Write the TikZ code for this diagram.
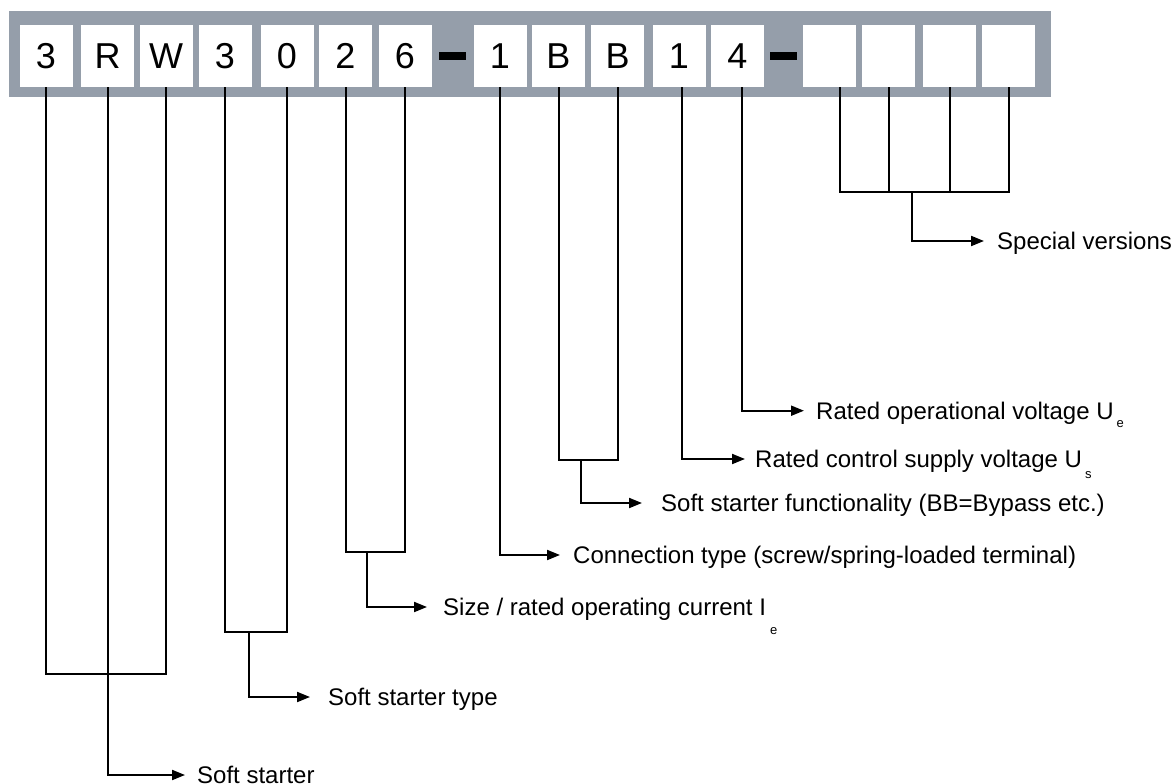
\documentclass[tikz,border=0pt]{standalone}
\usepackage{fontspec}
\setmainfont{Liberation Sans}
\usetikzlibrary{arrows.meta}
\definecolor{bargray}{RGB}{149,158,170}
\begin{document}
\begin{tikzpicture}[x=1pt,y=-1pt,
  digit/.style={fill=white, minimum width=53pt, minimum height=62pt, inner sep=0pt, font=\fontsize{36}{40}\selectfont},
  dashbar/.style={fill=black, minimum width=27pt, minimum height=8pt, inner sep=0pt},
  lbl/.style={anchor=west, inner sep=0pt, text height=17pt, text depth=0pt, font=\fontsize{24}{28}\selectfont},
  wire/.style={line width=2pt, line join=miter},
  arr/.style={wire, -{Triangle[length=13pt,width=10pt]}}]
\useasboundingbox (0,0) rectangle (1173,784);
% bar
\node[fill=bargray, minimum width=1042pt, minimum height=86pt, inner sep=0pt, anchor=north west] (bar) at (9,11) {};
% boxes
\node[digit] (b1) at (46,56) {3};
\node[digit] (b2) at (107.5,56) {R};
\node[digit] (b3) at (166,56) {W};
\node[digit] (b4) at (225,56) {3};
\node[digit] (b5) at (287,56) {0};
\node[digit] (b6) at (345.5,56) {2};
\node[digit] (b7) at (405,56) {6};
\node[dashbar] (d1) at (452.5,56) {};
\node[digit] (b8) at (500,56) {1};
\node[digit] (b9) at (558.5,56) {B};
\node[digit] (b10) at (617.5,56) {B};
\node[digit] (b11) at (679,56) {1};
\node[digit] (b12) at (737.5,56) {4};
\node[dashbar] (d2) at (783.3,56) {};
\node[digit] (b13) at (829.5,56) {};
\node[digit] (b14) at (888.5,56) {};
\node[digit] (b15) at (949.5,56) {};
\node[digit] (b16) at (1008.5,56) {};
% labels
\node[lbl] (t1) at (197,775) {Soft starter};
\node[lbl] (t2) at (328,697) {Soft starter type};
\node[lbl] (t3) at (443,607) {Size / rated operating current I\kern4pt\raisebox{-19pt}{\fontsize{13}{13}\selectfont e}};
\node[lbl] (t4) at (573,555) {Connection type (screw/spring-loaded terminal)};
\node[lbl] (t5) at (661,503) {Soft starter functionality (BB=Bypass etc.)};
\node[lbl] (t6) at (755,459) {Rated control supply voltage U\kern3pt\raisebox{-11pt}{\fontsize{13}{13}\selectfont s}};
\node[lbl] (t7) at (816,410.7) {Rated operational voltage U\kern3pt\raisebox{-8pt}{\fontsize{13}{13}\selectfont e}};
\node[lbl] (t8) at (997,241) {Special versions};
% junctions
\coordinate (j1) at (107,674);
\coordinate (j2) at (249,632);
\coordinate (j3) at (367,552);
\coordinate (j4) at (581,460);
\coordinate (j5) at (912,192);
% connectors
\draw[wire] (b1.south) |- (j1) -| (b3.south);
\draw[arr] (b2.south) |- ([xshift=-12pt]t1.west);
\draw[wire] (b4.south) |- (j2) -| (b5.south);
\draw[arr] (j2) |- ([xshift=-18pt]t2.west);
\draw[wire] (b6.south) |- (j3) -| (b7.south);
\draw[arr] (j3) |- ([xshift=-16pt]t3.west);
\draw[arr] (b8.south) |- ([xshift=-13pt]t4.west);
\draw[wire] (b9.south) |- (j4) -| (b10.south);
\draw[arr] (j4) |- ([xshift=-19pt]t5.west);
\draw[arr] ([xshift=3pt]b11.south) |- ([xshift=-10pt]t6.west);
\draw[arr] ([xshift=4.5pt]b12.south) |- ([xshift=-12pt]t7.west);
\draw[wire] ([xshift=10.5pt]b13.south) |- (j5) -| (b16.south);
\draw[wire] (b14.south) -- (b14.south |- j5);
\draw[wire] (b15.south) -- (b15.south |- j5);
\draw[arr] (j5) |- ([xshift=-13pt]t8.west);
\end{tikzpicture}
\end{document}
